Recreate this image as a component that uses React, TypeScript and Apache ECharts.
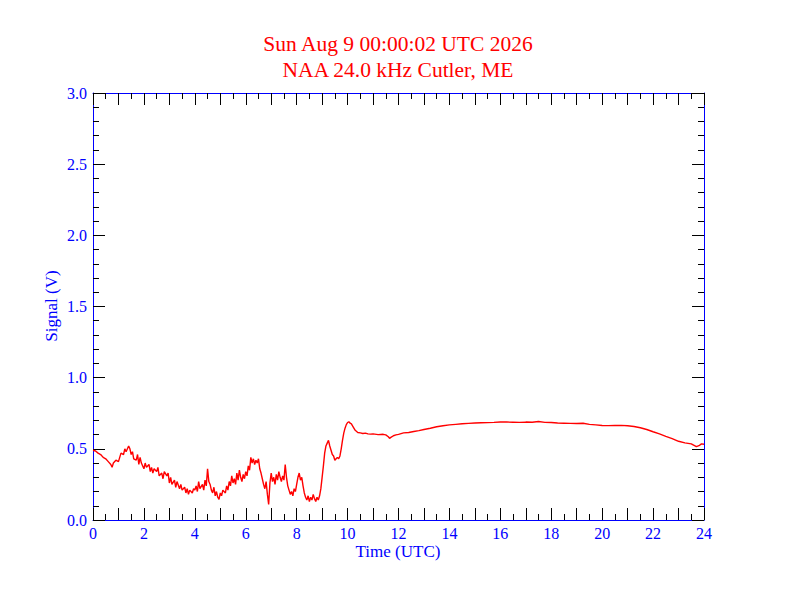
import * as echarts from "echarts";
import { useEffect, useRef } from "react";

// Signal readings as [hour UTC, volts]
const nightNoisy: [number, number][] = [
  [0.0, 0.49], [0.1, 0.485], [0.2, 0.47], [0.3, 0.46], [0.4, 0.44], [0.5, 0.43],
  [0.6, 0.41], [0.7, 0.39], [0.75, 0.37], [0.8, 0.4], [0.9, 0.42], [1.0, 0.41],
  [1.05, 0.44], [1.1, 0.47], [1.2, 0.46], [1.25, 0.5], [1.3, 0.48], [1.4, 0.52],
  [1.45, 0.5], [1.5, 0.46], [1.55, 0.48], [1.6, 0.43], [1.7, 0.42], [1.75, 0.46],
  [1.8, 0.39], [1.85, 0.44], [1.9, 0.4], [2.0, 0.36], [2.05, 0.4], [2.1, 0.37],
  [2.2, 0.39], [2.25, 0.34], [2.3, 0.37], [2.35, 0.33], [2.4, 0.36], [2.5, 0.34],
  [2.55, 0.37], [2.6, 0.31], [2.7, 0.33], [2.75, 0.29], [2.8, 0.34], [2.9, 0.31],
  [2.95, 0.33], [3.0, 0.26], [3.05, 0.3], [3.1, 0.25], [3.2, 0.28], [3.25, 0.23],
  [3.3, 0.27], [3.4, 0.22], [3.45, 0.25], [3.5, 0.21], [3.6, 0.23], [3.65, 0.19],
  [3.7, 0.22], [3.75, 0.18], [3.8, 0.21], [3.9, 0.19], [3.95, 0.22], [4.0, 0.21],
  [4.05, 0.24], [4.1, 0.2], [4.15, 0.27], [4.2, 0.22], [4.3, 0.25], [4.35, 0.21],
  [4.4, 0.28], [4.45, 0.24], [4.5, 0.36], [4.55, 0.27], [4.6, 0.25], [4.65, 0.21],
  [4.7, 0.19], [4.75, 0.23], [4.8, 0.17], [4.85, 0.2], [4.9, 0.16], [4.95, 0.145],
  [5.0, 0.19], [5.05, 0.17], [5.1, 0.21], [5.2, 0.19], [5.25, 0.24], [5.3, 0.21],
  [5.35, 0.27], [5.4, 0.24], [5.45, 0.31], [5.5, 0.26], [5.55, 0.29], [5.6, 0.25],
  [5.65, 0.33], [5.7, 0.28], [5.75, 0.35], [5.8, 0.3], [5.85, 0.27], [5.9, 0.32],
  [5.95, 0.29], [6.0, 0.34], [6.05, 0.31], [6.1, 0.38], [6.15, 0.35], [6.2, 0.44],
  [6.25, 0.4], [6.3, 0.43], [6.35, 0.39], [6.4, 0.42], [6.45, 0.4], [6.5, 0.43],
  [6.55, 0.36], [6.6, 0.33], [6.65, 0.29], [6.7, 0.25], [6.75, 0.22], [6.8, 0.27],
  [6.85, 0.18], [6.9, 0.11], [6.95, 0.26], [7.0, 0.33], [7.05, 0.27], [7.1, 0.3],
  [7.15, 0.25], [7.2, 0.32], [7.25, 0.28], [7.3, 0.34], [7.35, 0.3], [7.4, 0.27],
  [7.45, 0.31], [7.5, 0.28], [7.55, 0.39], [7.6, 0.3], [7.65, 0.24], [7.7, 0.21],
  [7.75, 0.18], [7.8, 0.2], [7.85, 0.17], [7.9, 0.22], [7.95, 0.2], [8.0, 0.25],
  [8.05, 0.3], [8.1, 0.33], [8.15, 0.28], [8.2, 0.3], [8.25, 0.24], [8.3, 0.19],
  [8.35, 0.16], [8.4, 0.14], [8.45, 0.17], [8.5, 0.13], [8.55, 0.16], [8.6, 0.14],
  [8.65, 0.18], [8.7, 0.15], [8.75, 0.13], [8.8, 0.16], [8.85, 0.14], [8.9, 0.17],
];

const sunriseJump: [number, number][] = [
  [8.95, 0.22], [9.0, 0.3], [9.05, 0.38], [9.1, 0.47], [9.15, 0.52], [9.2, 0.54],
  [9.25, 0.56], [9.3, 0.52], [9.35, 0.49], [9.4, 0.46], [9.45, 0.45], [9.5, 0.42],
  [9.55, 0.43], [9.6, 0.44], [9.65, 0.43], [9.7, 0.45], [9.75, 0.5], [9.8, 0.56],
  [9.85, 0.61], [9.9, 0.645], [9.95, 0.67], [10.0, 0.685], [10.05, 0.69], [10.1, 0.68],
  [10.15, 0.675], [10.2, 0.66], [10.3, 0.63], [10.4, 0.615], [10.5, 0.612], [10.6, 0.608],
  [10.7, 0.61], [10.8, 0.605], [10.9, 0.603], [11.0, 0.605], [11.2, 0.6], [11.4, 0.602],
  [11.5, 0.598], [11.6, 0.585], [11.65, 0.574], [11.7, 0.58], [11.8, 0.592], [11.9, 0.598],
];

const daytime: [number, number][] = [
  [12.0, 0.602], [12.2, 0.612], [12.4, 0.615], [12.6, 0.622], [12.8, 0.628], [13.0, 0.636],
  [13.25, 0.645], [13.5, 0.655], [13.75, 0.662], [14.0, 0.668], [14.25, 0.672], [14.5, 0.676],
  [14.75, 0.679], [15.0, 0.681], [15.25, 0.683], [15.5, 0.684], [15.75, 0.686], [16.0, 0.689],
  [16.25, 0.688], [16.5, 0.687], [16.75, 0.686], [17.0, 0.688], [17.25, 0.687], [17.5, 0.692],
  [17.75, 0.686], [18.0, 0.685], [18.25, 0.681], [18.5, 0.68], [18.75, 0.679], [19.0, 0.678],
  [19.25, 0.68], [19.5, 0.672], [19.75, 0.668], [20.0, 0.664], [20.25, 0.663], [20.5, 0.664],
  [20.75, 0.665], [21.0, 0.662], [21.25, 0.657], [21.5, 0.648], [21.75, 0.636], [22.0, 0.62],
  [22.25, 0.605], [22.5, 0.588], [22.75, 0.572], [23.0, 0.553], [23.25, 0.542], [23.5, 0.535],
  [23.7, 0.515], [23.8, 0.522], [23.9, 0.535], [24.0, 0.532],
];

const titleLines = ["Sun Aug 9 00:00:02 UTC 2026", "NAA 24.0 kHz Cutler, ME"];
const xTitle = "Time (UTC)";
const yTitle = "Signal (V)";

const FONT = "Liberation Serif";
const BLUE = "#0000ff";

export default function App() {
  const ref = useRef<HTMLDivElement | null>(null);

  useEffect(() => {
    if (!ref.current) return;
    const chart = echarts.init(ref.current, null, { renderer: "svg" });

    const tickStyle = (long: number) => ({
      show: true,
      inside: true,
      length: long,
      lineStyle: { color: "#000000", width: 1 },
    });
    const minor = (split: number) => ({
      show: true,
      splitNumber: split,
      length: 6,
      lineStyle: { color: "#000000", width: 1 },
    });
    const axisLine = { show: true, onZero: false, lineStyle: { color: BLUE, width: 1 } };
    const labelStyle = { color: BLUE, fontFamily: FONT, fontSize: 16, lineHeight: 16 };

    const xBase = {
      type: "value" as const,
      min: 0,
      max: 24,
      interval: 1,
      axisLine,
      axisTick: tickStyle(12),
      minorTick: minor(2),
      splitLine: { show: false },
    };
    const yBase = {
      type: "value" as const,
      min: 0,
      max: 3,
      interval: 0.5,
      axisLine,
      axisTick: tickStyle(12),
      minorTick: minor(5),
      splitLine: { show: false },
    };

    const textEl = (text: string, x: number, y: number, size: number, fill: string, rotation = 0) => ({
      type: "text",
      x,
      y,
      rotation,
      style: {
        text,
        fill,
        font: `${size}px "${FONT}"`,
        align: "center",
        verticalAlign: "middle",
      },
    });

    chart.setOption({
      animation: false,
      backgroundColor: "#ffffff",
      textStyle: { fontFamily: FONT },
      graphic: [
        ...titleLines.map((line, i) => textEl(line, 398, 44 + i * 26, 21.5, "#ff0000")),
        textEl(xTitle, 398, 551, 17, BLUE),
        textEl(yTitle, 51, 306, 17, BLUE, Math.PI / 2),
      ],
      grid: { left: 93, right: 88, top: 93, bottom: 92 },
      xAxis: [
        {
          ...xBase,
          position: "bottom",
          axisLabel: {
            ...labelStyle,
            margin: 5,
            formatter: (v: number) => (v % 2 === 0 ? String(v) : ""),
          },
        },
        { ...xBase, position: "top", axisLabel: { show: false } },
      ],
      yAxis: [
        {
          ...yBase,
          position: "left",
          axisLabel: {
            ...labelStyle,
            margin: 6,
            formatter: (v: number) => v.toFixed(1),
          },
        },
        { ...yBase, position: "right", axisLabel: { show: false } },
      ],
      series: [
        {
          type: "line",
          xAxisIndex: 0,
          yAxisIndex: 0,
          showSymbol: false,
          data: [...nightNoisy, ...sunriseJump, ...daytime],
          lineStyle: { color: "#ff0000", width: 1.4 },
        },
      ],
    });

    return () => chart.dispose();
  }, []);

  return (
    <div
      ref={ref}
      style={{ position: "absolute", left: 0, top: 0, width: 792, height: 612 }}
    />
  );
}
